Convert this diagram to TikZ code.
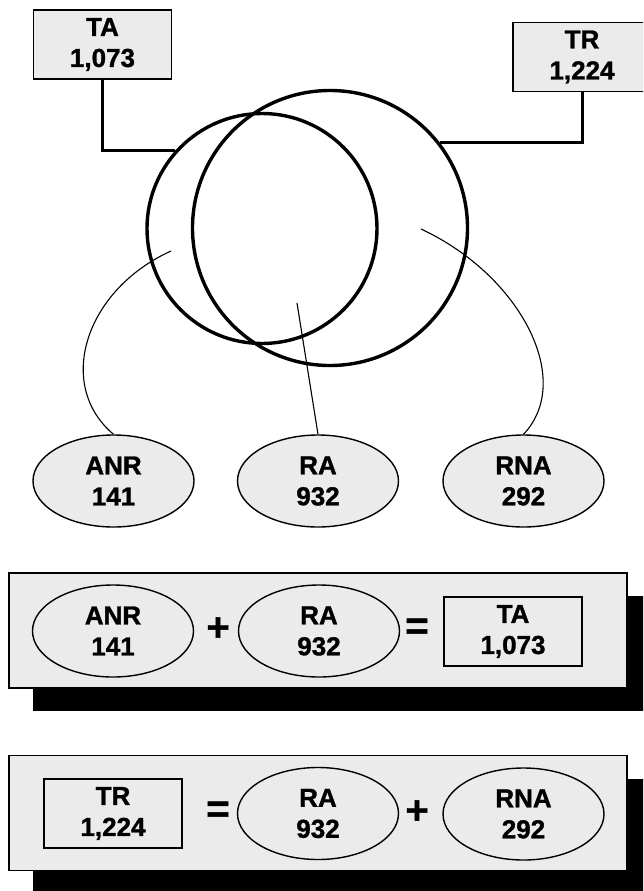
\documentclass[tikz,border=0pt]{standalone}
\usepackage{fontspec}
\setmainfont{Liberation Sans}[BoldFeatures={FakeBold=1.2}]
\usetikzlibrary{shapes.geometric}
\definecolor{stipple}{gray}{0.92}
\begin{document}
\begin{tikzpicture}[x=1pt,y=-1pt,
  lbl/.style={font=\bfseries\fontsize{26}{31}\selectfont, align=center},
  tagbox/.style={lbl, draw, line width=1.6pt, fill=stipple, minimum width=138pt, minimum height=69pt, inner sep=0pt},
  tagoval/.style={lbl, ellipse, draw, line width=1.4pt, fill=stipple, minimum width=161pt, minimum height=92pt, inner sep=0pt},
  ring/.style={circle, draw, line width=3.4pt, inner sep=0pt},
  link/.style={line width=3pt},
  leader/.style={line width=1.1pt},
  panel/.style={draw, line width=1.5pt, fill=stipple, minimum width=618pt, minimum height=115pt, inner sep=0pt},
  panelshadow/.style={fill=black, minimum width=618pt, minimum height=115pt, inner sep=0pt},
  op/.style={font=\bfseries\fontsize{40}{40}\selectfont, inner sep=0pt}]
\useasboundingbox (0,0) rectangle (643,891);
\clip (0,0) rectangle (643,891);

% totals
\node[tagbox] (ta) at (102.5,44.5) {TA\\1,073};
\node[tagbox] (tr) at (582,57) {TR\\1,224};

% the two overlapping sets
\node[ring, minimum size=230pt] (left) at (262,228.5) {};
\node[ring, minimum size=275pt] (right) at (330,228) {};

\draw[link] (ta.south) |- (left.138);
\draw[link] (tr.south) |- (right.38.5);

% region counts
\node[tagoval] (anr) at (113.5,481) {ANR\\141};
\node[tagoval] (ra) at (318,481) {RA\\932};
\node[tagoval] (rna) at (523.5,481) {RNA\\292};

\coordinate (anrfoot) at (171,251);
\coordinate (rafoot) at (297,303);
\coordinate (rnafoot) at (421,229);

\draw[leader] (anrfoot) .. controls (85,290) and (55,385) .. (anr.north);
\draw[leader] (rafoot) -- (ra.north);
\draw[leader] (rnafoot) .. controls (520,275) and (575,380) .. (rna.north);

% first sum
\node[panelshadow] (s1) at (342,653.5) {};
\node[panel] (p1) at (318,630.5) {};
\node[tagoval] (anr2) at (113,631) {ANR\\141};
\node[op] (plus1) at (218,629) {+};
\node[tagoval] (ra2) at (319,631) {RA\\932};
\node[op] (eq1) at (417,629) {=};
\node[tagbox] (ta2) at (513,631.5) {TA\\1,073};

% second sum
\node[panelshadow] (s2) at (342,836) {};
\node[panel] (p2) at (318,813) {};
\node[tagbox] (tr2) at (113,813.5) {TR\\1,224};
\node[op] (eq2) at (218,812) {=};
\node[tagoval] (ra3) at (318,813.5) {RA\\932};
\node[op] (plus2) at (417,812) {+};
\node[tagoval] (rna2) at (523.5,814) {RNA\\292};
\end{tikzpicture}
\end{document}
